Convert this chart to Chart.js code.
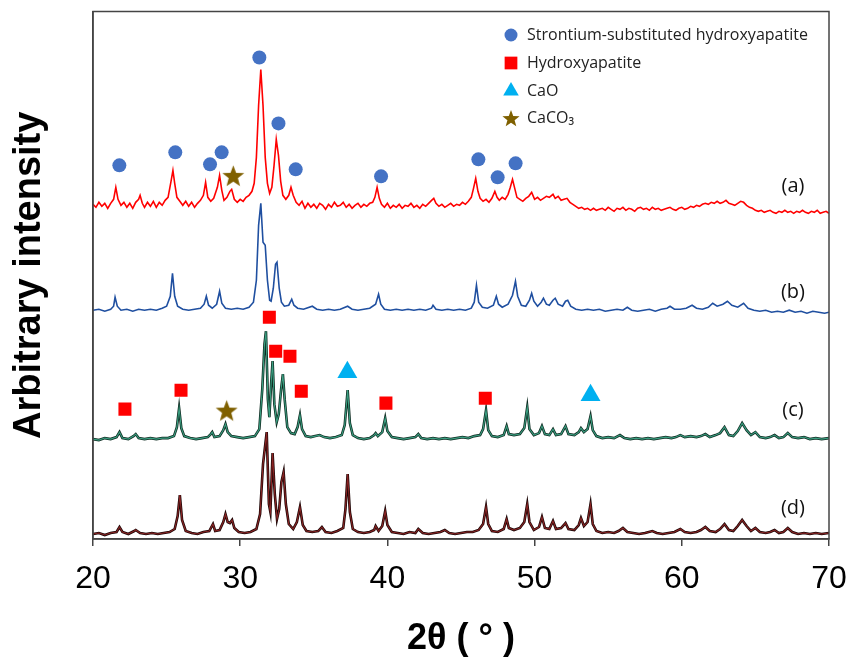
<!DOCTYPE html>
<html>
<head>
<meta charset="utf-8">
<script src="https://cdn.jsdelivr.net/npm/chart.js@4.4.1/dist/chart.umd.min.js"></script>
<style>
  html, body { margin: 0; padding: 0; background: #fff; }
  #wrap { width: 846px; height: 661px; }
</style>
</head>
<body>
<div id="wrap"><canvas id="xrd" width="846" height="661"></canvas></div>
<script>
// 2theta range and tick labels
const xTicks = [20, 30, 40, 50, 60, 70];

// trace names and vertical stacking offsets (arbitrary units)
const traceNames = ["(a)", "(b)", "(c)", "(d)"];
const traceOffsets = [334, 229, 100, 5];

// pattern (a): [2theta, intensity]
const patternA = [
  [20.0,1],[20.2,-2],[20.4,3],[20.6,-1],[20.8,2],[21.0,-3],[21.2,2],[21.4,6],[21.55,18],[21.7,6],
  [21.9,0],[22.1,3],[22.3,-2],[22.5,2],[22.7,-3],[22.9,3],[23.1,6],[23.2,10],[23.35,2],[23.5,-2],
  [23.7,3],[23.9,-1],[24.1,4],[24.3,-2],[24.5,3],[24.7,0],[24.9,5],[25.1,8],[25.3,24],[25.43,35],
  [25.55,22],[25.7,8],[25.9,4],[26.1,0],[26.3,4],[26.5,-1],[26.7,3],[26.9,-2],[27.1,2],[27.3,5],
  [27.5,10],[27.65,23],[27.8,8],[28.0,4],[28.2,7],[28.45,18],[28.6,30],[28.75,15],[28.9,5],[29.1,8],
  [29.3,14],[29.42,16],[29.6,6],[29.8,3],[30.0,6],[30.2,4],[30.4,8],[30.6,10],[30.8,14],[30.95,22],
  [31.1,48],[31.25,100],[31.4,136],[31.55,100],[31.7,48],[31.85,22],[32.0,12],[32.15,18],[32.3,40],[32.45,66],
  [32.6,50],[32.75,24],[32.9,10],[33.1,6],[33.3,10],[33.45,18],[33.6,10],[33.8,3],[34.0,0],[34.2,4],
  [34.4,-3],[34.6,2],[34.8,-2],[35.0,1],[35.2,-3],[35.4,2],[35.6,0],[35.8,-4],[36.0,1],[36.2,-2],
  [36.4,3],[36.6,-1],[36.8,0],[37.0,3],[37.2,-2],[37.4,1],[37.6,-3],[37.8,0],[38.0,2],[38.2,-2],
  [38.4,1],[38.6,-1],[38.8,2],[39.0,3],[39.15,8],[39.3,18],[39.45,7],[39.6,1],[39.8,-2],[40.0,2],
  [40.2,-3],[40.4,0],[40.6,-2],[40.8,1],[41.0,-3],[41.2,0],[41.4,-1],[41.6,2],[41.8,-2],[42.0,0],
  [42.2,-3],[42.4,1],[42.6,-1],[42.8,2],[43.0,5],[43.15,7],[43.3,2],[43.5,-1],[43.7,1],[43.9,-2],
  [44.1,0],[44.3,2],[44.5,-1],[44.7,1],[44.9,0],[45.1,3],[45.3,1],[45.5,4],[45.7,8],[45.85,17],
  [46.0,27],[46.15,14],[46.3,7],[46.5,4],[46.7,6],[46.9,3],[47.1,7],[47.3,14],[47.45,8],[47.6,5],
  [47.8,8],[48.0,6],[48.2,11],[48.35,18],[48.5,26],[48.65,17],[48.8,8],[49.0,6],[49.2,4],[49.4,7],
  [49.6,9],[49.8,13],[50.0,6],[50.2,8],[50.4,5],[50.6,7],[50.8,9],[51.0,8],[51.25,11],[51.4,7],
  [51.6,9],[51.8,5],[52.0,6],[52.2,7],[52.4,3],[52.6,1],[52.8,-1],[53.0,-3],[53.2,-2],[53.4,-4],
  [53.6,-3],[53.8,-5],[54.0,-3],[54.2,-5],[54.4,-4],[54.6,-3],[54.8,-5],[55.0,-2],[55.2,-4],[55.4,-6],
  [55.6,-3],[55.8,-4],[56.0,-2],[56.2,-5],[56.4,-3],[56.6,-4],[56.8,-6],[57.0,-3],[57.2,-2],[57.4,-4],
  [57.6,-3],[57.8,-5],[58.0,-2],[58.2,-4],[58.4,-3],[58.6,-5],[58.8,-4],[59.0,-3],[59.2,-2],[59.4,-4],
  [59.6,-5],[59.8,-3],[60.0,-2],[60.2,-4],[60.4,-3],[60.6,-1],[60.8,-2],[61.0,0],[61.2,-1],[61.4,1],
  [61.6,2],[61.8,1],[62.0,3],[62.2,2],[62.4,4],[62.6,2],[62.8,3],[63.0,5],[63.2,2],[63.4,1],
  [63.6,0],[63.8,2],[64.0,4],[64.2,3],[64.4,0],[64.6,-2],[64.8,-3],[65.0,-5],[65.2,-6],[65.4,-5],
  [65.6,-7],[65.8,-6],[66.0,-5],[66.2,-7],[66.4,-8],[66.6,-6],[66.8,-7],[67.0,-5],[67.2,-7],[67.4,-6],
  [67.6,-8],[67.8,-6],[68.0,-7],[68.2,-5],[68.4,-7],[68.6,-8],[68.8,-6],[69.0,-7],[69.2,-5],[69.4,-8],
  [69.6,-7],[69.8,-6],[70.0,-8]
];

// pattern (b)
const patternB = [
  [20.0,0],[20.4,1],[20.8,-1],[21.2,1],[21.4,4],[21.5,13],[21.65,4],[21.9,0],[22.3,1],[22.7,-1],
  [23.1,1],[23.5,0],[23.9,1],[24.3,0],[24.7,2],[25.0,4],[25.25,14],[25.4,37],[25.55,14],[25.75,4],
  [26.1,1],[26.5,0],[26.9,1],[27.3,2],[27.55,6],[27.7,14],[27.85,5],[28.1,2],[28.4,6],[28.6,19],
  [28.75,7],[29.0,2],[29.4,1],[29.8,2],[30.2,1],[30.6,3],[30.9,8],[31.1,30],[31.25,85],[31.4,107],
  [31.55,68],[31.7,65],[31.85,30],[32.0,10],[32.1,9],[32.25,22],[32.4,46],[32.5,48],[32.65,22],[32.8,8],
  [33.0,4],[33.3,5],[33.5,11],[33.65,5],[33.9,2],[34.3,1],[34.9,4],[35.2,1],[35.6,0],[36.0,1],
  [36.4,0],[36.8,1],[37.3,4],[37.6,1],[38.0,0],[38.4,1],[38.8,2],[39.2,6],[39.4,16],[39.55,6],
  [39.8,1],[40.2,0],[40.6,1],[41.0,0],[41.4,1],[41.8,0],[42.2,1],[42.6,0],[43.0,2],[43.1,5],
  [43.3,1],[43.7,0],[44.1,1],[44.5,0],[44.9,1],[45.3,0],[45.7,2],[45.9,8],[46.05,25],[46.2,8],
  [46.45,3],[46.8,2],[47.2,5],[47.4,14],[47.55,6],[47.8,3],[48.2,6],[48.5,15],[48.7,29],[48.85,14],
  [49.1,5],[49.4,4],[49.65,10],[49.8,17],[49.95,9],[50.2,4],[50.45,8],[50.6,12],[50.8,6],[51.0,5],
  [51.25,10],[51.4,12],[51.6,6],[51.9,4],[52.1,9],[52.25,10],[52.45,4],[52.8,1],[53.2,0],[53.6,1],
  [54.0,0],[54.4,1],[54.8,-1],[55.2,0],[55.6,1],[56.0,0],[56.3,3],[56.6,0],[57.0,-1],[57.4,0],
  [57.8,1],[58.2,-1],[58.6,1],[59.0,2],[59.2,4],[59.5,1],[59.9,1],[60.3,2],[60.7,5],[61.0,2],
  [61.4,1],[61.8,3],[62.1,7],[62.4,4],[62.8,6],[63.1,9],[63.4,5],[63.8,3],[64.2,7],[64.5,2],
  [64.9,0],[65.3,-1],[65.7,0],[66.1,-2],[66.5,-1],[66.9,-2],[67.3,0],[67.7,-2],[68.1,-1],[68.5,-3],
  [68.9,-1],[69.3,-2],[69.7,-3],[70.0,-2]
];

// pattern (c)
const patternC = [
  [20.0,0],[20.4,-1],[20.8,1],[21.2,0],[21.6,2],[21.8,7],[22.0,1],[22.4,0],[22.75,3],[22.9,5],
  [23.1,1],[23.5,0],[23.9,1],[24.3,0],[24.7,1],[25.1,1],[25.5,3],[25.7,12],[25.85,31],[26.0,11],
  [26.2,3],[26.6,1],[27.0,0],[27.4,1],[27.8,2],[28.0,5],[28.1,7],[28.25,2],[28.6,3],[28.85,9],
  [29.0,15],[29.15,7],[29.4,3],[29.8,2],[30.2,1],[30.6,2],[31.0,3],[31.3,10],[31.5,50],[31.65,95],
  [31.75,108],[31.88,40],[31.98,22],[32.1,55],[32.2,78],[32.32,35],[32.48,17],[32.62,25],[32.78,50],[32.9,65],
  [33.02,40],[33.2,12],[33.45,6],[33.7,5],[33.9,12],[34.06,24],[34.2,10],[34.45,3],[34.8,2],[35.1,3],
  [35.4,4],[35.7,2],[36.1,1],[36.5,2],[36.9,4],[37.1,14],[37.3,49],[37.45,16],[37.65,4],[38.0,1],
  [38.4,0],[38.8,1],[39.1,4],[39.2,6],[39.35,3],[39.65,7],[39.85,21],[40.0,8],[40.3,2],[40.7,1],
  [41.1,0],[41.5,1],[41.9,2],[42.1,5],[42.3,1],[42.7,0],[43.1,1],[43.5,0],[43.9,1],[44.3,0],
  [44.7,1],[45.1,2],[45.5,1],[45.9,3],[46.3,4],[46.5,10],[46.7,29],[46.85,9],[47.1,3],[47.5,2],
  [47.9,4],[48.1,13],[48.25,5],[48.6,4],[49.0,5],[49.3,11],[49.5,32],[49.65,10],[49.95,4],[50.3,6],
  [50.5,13],[50.7,5],[51.0,4],[51.25,10],[51.45,4],[51.8,5],[52.1,13],[52.3,5],[52.7,4],[53.0,7],
  [53.15,11],[53.35,7],[53.6,10],[53.8,23],[53.95,9],[54.2,3],[54.6,1],[55.0,2],[55.4,1],[55.8,4],
  [56.1,1],[56.5,0],[56.9,1],[57.3,0],[57.7,1],[58.1,0],[58.5,1],[58.9,2],[59.3,1],[59.6,2],
  [59.9,4],[60.2,2],[60.6,3],[61.0,2],[61.3,3],[61.6,5],[61.9,2],[62.3,4],[62.6,6],[62.9,12],
  [63.2,4],[63.5,3],[63.8,8],[64.1,16],[64.4,9],[64.7,4],[65.0,7],[65.3,2],[65.7,1],[66.0,2],
  [66.3,4],[66.6,1],[66.9,2],[67.2,6],[67.5,2],[67.9,1],[68.3,2],[68.7,0],[69.1,1],[69.5,0],
  [70.0,1]
];

// pattern (d)
const patternD = [
  [20.0,0],[20.4,1],[20.8,-1],[21.2,1],[21.6,2],[21.8,7],[22.0,2],[22.4,0],[22.8,3],[22.9,4],
  [23.2,1],[23.6,0],[24.0,1],[24.4,0],[24.8,1],[25.2,2],[25.55,5],[25.75,18],[25.9,39],[26.05,14],
  [26.3,3],[26.7,1],[27.1,0],[27.5,2],[27.9,3],[28.15,10],[28.3,3],[28.6,4],[28.85,12],[29.0,20],
  [29.15,12],[29.3,11],[29.45,14],[29.6,6],[29.9,2],[30.3,1],[30.7,2],[31.1,5],[31.35,20],[31.55,70],
  [31.8,102],[31.95,30],[32.05,22],[32.2,81],[32.35,40],[32.5,15],[32.65,25],[32.8,52],[32.95,62],[33.1,30],
  [33.3,10],[33.6,5],[33.85,12],[34.06,27],[34.25,9],[34.5,3],[34.9,2],[35.3,3],[35.55,7],[35.8,2],
  [36.2,1],[36.6,3],[37.0,6],[37.15,25],[37.3,60],[37.45,22],[37.65,5],[38.0,2],[38.4,1],[38.8,2],
  [39.1,4],[39.2,8],[39.4,3],[39.65,8],[39.85,23],[40.0,9],[40.3,2],[40.7,1],[41.1,0],[41.5,2],
  [41.9,1],[42.1,5],[42.4,1],[42.8,0],[43.2,1],[43.6,2],[43.9,4],[44.2,1],[44.6,0],[45.0,1],
  [45.4,2],[45.8,2],[46.2,4],[46.5,10],[46.7,27],[46.85,10],[47.1,3],[47.5,2],[47.9,5],[48.1,15],
  [48.25,6],[48.6,4],[49.0,6],[49.3,12],[49.5,30],[49.65,12],[49.95,4],[50.3,7],[50.5,17],[50.7,6],
  [51.0,5],[51.25,13],[51.45,5],[51.8,6],[52.1,11],[52.3,5],[52.7,4],[53.0,9],[53.15,16],[53.35,8],
  [53.6,12],[53.8,30],[53.95,10],[54.2,3],[54.6,1],[55.0,2],[55.4,1],[55.7,3],[56.0,6],[56.3,2],
  [56.7,1],[57.1,0],[57.5,1],[58.0,3],[58.3,1],[58.7,0],[59.1,1],[59.5,2],[59.9,5],[60.2,2],
  [60.6,1],[61.0,2],[61.3,4],[61.6,7],[61.9,3],[62.3,2],[62.6,5],[62.9,10],[63.2,4],[63.5,3],
  [63.8,8],[64.1,14],[64.4,8],[64.7,3],[65.0,6],[65.3,2],[65.7,1],[66.0,2],[66.3,4],[66.6,1],
  [66.9,2],[67.2,6],[67.5,2],[67.9,0],[68.3,1],[68.7,0],[69.1,1],[69.5,0],[70.0,1]
];

// phase markers: [2theta, level]
const phaseNames = ["Strontium-substituted hydroxyapatite", "Hydroxyapatite", "CaO", "CaCO\u2083"];
const srHapMarks = [[21.79,374],[25.59,387],[27.95,375],[28.74,387],[31.3,482],[32.6,416],
                    [33.77,370],[39.57,363],[46.18,380],[47.49,362],[48.71,376]];
const hapMarks = [[22.17,130],[25.98,149],[31.98,222],[32.41,188],[33.38,183],[34.15,148],
                  [39.9,136],[46.65,141]];
const caoMarks = [[37.28,167],[53.8,144]];
const caco3Marks = [[29.53,364],[29.08,129]];

function makeStar(size, color){
  const c = document.createElement("canvas");
  c.width = size; c.height = size;
  const g = c.getContext("2d");
  const r = size / 2, ri = r * 0.42;
  g.beginPath();
  for (let i = 0; i < 10; i++){
    const rad = i % 2 ? ri : r;
    const a = -Math.PI / 2 + i * Math.PI / 5;
    g.lineTo(r + rad * Math.cos(a), r + size * 0.06 + rad * Math.sin(a));
  }
  g.closePath();
  g.fillStyle = color;
  g.fill();
  return c;
}

const starBig = makeStar(23, "#7F6000");
const starSmall = makeStar(18, "#7F6000");

const toXY = (arr, off) => arr.map(p => ({ x: p[0], y: p[1] + off }));

const lineColors = ["#ff0000", "#1f4fa0", "#3a9e80", "#8a2424"];

const markerSets = [
  { data: srHapMarks, style: "circle", color: "#4472C4", radius: 7 },
  { data: hapMarks, style: "rect", color: "#ff0000", radius: 9.2 },
  { data: caoMarks, style: "triangle", color: "#00B0F0", radius: 11.5 },
  { data: caco3Marks, style: starBig, color: "#7F6000", radius: 11 }
];

const datasets = [];
markerSets.forEach(m => {
  datasets.push({
    data: toXY(m.data, 0), showLine: false, order: 0,
    pointStyle: m.style, pointRadius: m.radius, pointHoverRadius: m.radius,
    backgroundColor: m.color, borderColor: m.color, borderWidth: 0
  });
});

const patterns = [patternA, patternB, patternC, patternD];
patterns.forEach((p, i) => {
  datasets.push({
    data: toXY(p, traceOffsets[i]), showLine: true, order: 1,
    borderColor: lineColors[i], borderWidth: i < 2 ? 1.6 : 1.1,
    pointRadius: 0, tension: 0
  });
});
// dark edge under (c) and (d)
[2, 3].forEach(i => {
  datasets.push({
    data: toXY(patterns[i], traceOffsets[i]), showLine: true, order: 2,
    borderColor: i === 2 ? "#0e2a20" : "#1c0606", borderWidth: 2.6,
    pointRadius: 0, tension: 0
  });
});

const framePlugin = {
  id: "frame",
  afterDraw(chart){
    const { ctx, chartArea: a } = chart;
    ctx.save();
    ctx.strokeStyle = "#444";
    ctx.lineWidth = 1.5;
    ctx.strokeRect(a.left, a.top, a.right - a.left, a.bottom - a.top);
    ctx.restore();
  }
};

const labelPlugin = {
  id: "traceLabels",
  afterDatasetsDraw(chart){
    const { ctx, scales: { x, y } } = chart;
    const lift = [19, 18, 29, 26];
    ctx.save();
    ctx.fillStyle = "#111";
    ctx.font = "20px 'Open Sans', sans-serif";
    ctx.textAlign = "center";
    ctx.textBaseline = "middle";
    traceNames.forEach((t, i) => {
      ctx.fillText(t, x.getPixelForValue(67.55), y.getPixelForValue(traceOffsets[i] + lift[i]));
    });

    // legend for phases
    const lx = 511, tx = 527, rows = [35, 63, 91, 118];
    const styles = [
      { pointStyle: "circle", radius: 6.5, color: "#4472C4" },
      { pointStyle: "rect", radius: 9, color: "#ff0000" },
      { pointStyle: "triangle", radius: 9, color: "#00B0F0" },
      { pointStyle: starSmall, radius: 9, color: "#7F6000" }
    ];
    ctx.textAlign = "left";
    ctx.font = "16px 'Open Sans', sans-serif";
    phaseNames.forEach((name, i) => {
      const s = styles[i];
      ctx.fillStyle = s.color;
      ctx.strokeStyle = s.color;
      Chart.helpers.drawPoint(ctx, { pointStyle: s.pointStyle, radius: s.radius, borderWidth: 0, rotation: 0 }, lx, rows[i]);
      ctx.fillStyle = "#222";
      ctx.fillText(name, tx, rows[i]);
    });
    ctx.restore();
  }
};

new Chart(document.getElementById("xrd"), {
  type: "scatter",
  data: { datasets },
  options: {
    responsive: false,
    animation: false,
    devicePixelRatio: 1,
    layout: { padding: { top: 11, right: 17, left: 0, bottom: 0 } },
    plugins: { legend: { display: false }, tooltip: { enabled: false } },
    scales: {
      x: {
        type: "linear", min: 20, max: 70,
        afterBuildTicks(scale){ scale.ticks = xTicks.map(v => ({ value: v })); },
        afterFit(scale){ scale.height = 122; scale.paddingRight = 0; scale.paddingLeft = 0; },
        ticks: { color: "#000", padding: 14, font: { family: "'Liberation Sans', Arial, sans-serif", size: 32 } },
        grid: { drawOnChartArea: false, drawTicks: true, tickLength: 7, color: "#444", lineWidth: 1.5 },
        border: { display: true, color: "#444", width: 1.5 },
        title: {
          display: true, text: "2\u03B8 ( \u00B0 )", color: "#000",
          font: { family: "'Liberation Sans', Arial, sans-serif", size: 36, weight: "bold" },
          padding: { top: 0, bottom: 0 }
        }
      },
      y: {
        min: 0, max: 528,
        afterFit(scale){ scale.width = 93; },
        ticks: { display: false },
        grid: { display: false },
        border: { display: true, color: "#444", width: 1.5 },
        title: {
          display: true, text: "Arbitrary intensity", color: "#000",
          font: { family: "'Liberation Sans', Arial, sans-serif", size: 38, weight: "bold" },
          padding: { top: 7, bottom: 0 }
        }
      }
    }
  },
  plugins: [framePlugin, labelPlugin]
});
</script>
</body>
</html>
